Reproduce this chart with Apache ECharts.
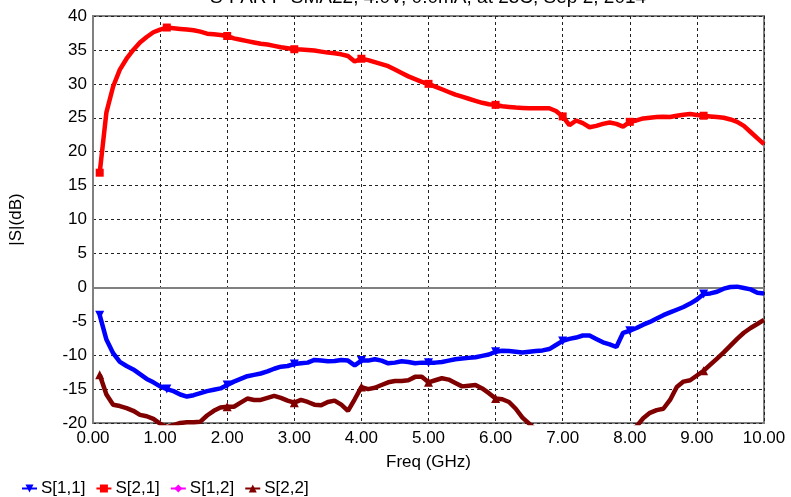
<!DOCTYPE html>
<html>
<head>
<meta charset="utf-8">
<script src="https://cdn.jsdelivr.net/npm/echarts@6/dist/echarts.min.js"></script>
<style>html,body{margin:0;padding:0;background:#fff}#c{width:791px;height:497px}</style>
</head>
<body>
<div id="c"></div>
<script>
const titleText = 'S-PAR P-SMA22, 4.0V, 0.0mA, at 25C, Sep 2, 2014';
const seriesNames = ['S[1,1]', 'S[2,1]', 'S[1,2]', 'S[2,2]'];
const xTicks = [0,1,2,3,4,5,6,7,8,9,10];
const freq = [0.1,0.2,0.3,0.4,0.5,0.6,0.7,0.8,0.9,1.0,
  1.1,1.2,1.3,1.4,1.5,1.6,1.7,1.8,1.9,2.0,
  2.1,2.2,2.3,2.4,2.5,2.6,2.7,2.8,2.9,3.0,
  3.1,3.2,3.3,3.4,3.5,3.6,3.7,3.8,3.9,4.0,
  4.1,4.2,4.3,4.4,4.5,4.6,4.7,4.8,4.9,5.0,
  5.1,5.2,5.3,5.4,5.5,5.6,5.7,5.8,5.9,6.0,
  6.1,6.2,6.3,6.4,6.5,6.6,6.7,6.8,6.9,7.0,
  7.1,7.2,7.3,7.4,7.5,7.6,7.7,7.8,7.9,8.0,
  8.1,8.2,8.3,8.4,8.5,8.6,8.7,8.8,8.9,9.0,
  9.1,9.2,9.3,9.4,9.5,9.6,9.7,9.8,9.9,10.0];
const s11 = [-4.1,-7.7,-9.7,-11.0,-11.6,-12.1,-12.8,-13.5,-14.0,-14.6,
  -15.0,-15.3,-15.8,-16.1,-15.9,-15.6,-15.3,-15.1,-14.9,-14.4,
  -13.9,-13.5,-13.1,-12.9,-12.7,-12.4,-12.0,-11.7,-11.6,-11.3,
  -11.2,-11.1,-10.7,-10.8,-10.9,-10.85,-10.7,-10.8,-11.5,-10.8,
  -10.8,-10.6,-10.8,-11.2,-11.1,-10.9,-11.0,-11.2,-11.1,-11.1,
  -11.1,-11.0,-10.8,-10.6,-10.5,-10.4,-10.3,-10.1,-9.9,-9.5,
  -9.35,-9.4,-9.5,-9.6,-9.5,-9.4,-9.3,-9.1,-8.5,-7.9,
  -7.6,-7.4,-7.1,-7.1,-7.6,-8.1,-8.4,-8.8,-6.7,-6.4,
  -6.0,-5.5,-5.1,-4.6,-4.1,-3.7,-3.3,-2.9,-2.4,-1.8,
  -1.0,-0.9,-0.65,-0.2,0.05,0.1,-0.1,-0.3,-0.8,-0.9];
const s21 = [16.9,25.8,29.6,32.1,33.7,35.0,36.1,36.9,37.6,38.0,
  38.3,38.2,38.1,38.0,37.9,37.7,37.4,37.3,37.2,37.05,
  36.7,36.5,36.3,36.1,35.9,35.8,35.6,35.4,35.25,35.1,
  35.05,35.0,34.9,34.75,34.6,34.5,34.35,34.1,33.3,33.7,
  33.5,33.2,32.9,32.6,32.1,31.6,31.1,30.7,30.3,30.0,
  29.6,29.2,28.8,28.4,28.1,27.8,27.5,27.2,27.0,26.9,
  26.7,26.6,26.5,26.45,26.4,26.4,26.4,26.4,26.0,25.2,
  23.9,24.6,24.2,23.6,23.8,24.1,24.3,24.1,23.7,24.4,
  24.6,24.9,25.0,25.1,25.15,25.1,25.3,25.45,25.55,25.4,
  25.3,25.2,25.1,25.0,24.75,24.4,23.8,22.9,22.0,21.1];
// S[1,2] lies entirely below the -20 dB axis floor in the reference (not visible)
const s12 = [];
const s22 = [-12.9,-15.8,-17.3,-17.5,-17.8,-18.2,-18.8,-19.0,-19.4,-20.1,
  -20.6,-20.3,-20.0,-19.9,-19.9,-19.8,-18.9,-18.2,-17.7,-17.6,
  -17.6,-17.0,-16.4,-16.6,-16.6,-16.3,-16.0,-16.3,-16.7,-17.0,
  -16.6,-16.9,-17.3,-17.4,-16.9,-16.7,-17.3,-18.2,-16.5,-14.7,
  -15.0,-14.8,-14.4,-14.0,-13.8,-13.8,-13.7,-13.2,-13.2,-14.0,
  -13.7,-13.4,-13.6,-14.1,-14.6,-14.5,-14.4,-14.9,-15.6,-16.4,
  -16.5,-16.9,-17.9,-19.2,-20.1,-21.0,-22.0,-23.0,-24.0,-24.5,
  -25.0,-25.0,-25.5,-25.0,-24.5,-24.0,-23.5,-23.0,-22.0,-21.2,
  -20.5,-19.3,-18.5,-18.1,-17.9,-16.6,-14.7,-13.9,-13.7,-13.0,
  -12.3,-11.4,-10.5,-9.6,-8.6,-7.6,-6.7,-6.0,-5.4,-4.8];
const markerFreqs = [0.1,1.1,2.0,3.0,4.0,5.0,6.0,7.0,8.0,9.1];

const FONT = 'Liberation Sans, Arial, sans-serif';
function pairs(vals){ return vals.map((v,i)=>[freq[i], v]); }
function markSize(sz){
  return function(val){ return markerFreqs.some(f=>Math.abs(f-val[0])<1e-6) ? sz : 0; };
}
function mk(name, vals, color, symbol, sz, rot){
  return {
    name, type:'line', data: pairs(vals), clip:true,
    symbol, symbolSize: markSize(sz), symbolRotate: rot||0, showSymbol:true,
    lineStyle:{color, width:4.5}, itemStyle:{color, borderWidth:0},
    emphasis:{disabled:true}, animation:false, z: 3
  };
}
const chart = echarts.init(document.getElementById('c'), null, {renderer:'canvas'});
chart.setOption({
  backgroundColor:'#fff',
  animation:false,
  textStyle:{fontFamily:FONT},
  graphic:[{type:'text', x:428, y:-12, style:{text:titleText, font:'19px '+FONT, fill:'#000', textAlign:'center', textVerticalAlign:'top'}}],
  grid:{left:92, right:27, top:16, bottom:74, show:true, borderColor:'#808080', borderWidth:2, backgroundColor:'transparent'},
  legend:{
    left:16, top:475, itemWidth:15, itemHeight:10, itemGap:10,
    textStyle:{fontSize:17, color:'#000', fontFamily:FONT, padding:[0,0,0,-1]},
    data: seriesNames
  },
  xAxis:{
    type:'value', min:0, max:10, interval:1,
    name:'Freq (GHz)', nameLocation:'middle', nameGap:31,
    nameTextStyle:{fontSize:17, color:'#000', fontFamily:FONT},
    axisLine:{show:true, lineStyle:{color:'#808080', width:2}},
    axisTick:{show:false},
    axisLabel:{fontSize:17, color:'#000', margin:7, formatter:v=>xTicks.includes(v)?v.toFixed(2):''},
    splitLine:{show:true, lineStyle:{color:'#222', type:[3,3], width:1}}
  },
  yAxis:{
    type:'value', min:-20, max:40, interval:5,
    name:'|S|(dB)', nameLocation:'middle', nameGap:68, nameRotate:90,
    nameTextStyle:{fontSize:17, color:'#000', fontFamily:FONT},
    axisLine:{show:true, lineStyle:{color:'#808080', width:2}},
    axisTick:{show:false},
    axisLabel:{fontSize:17, color:'#000', margin:6},
    splitLine:{show:true, lineStyle:{color:'#222', type:[3,3], width:1}}
  },
  series:[
    mk(seriesNames[0], s11, '#0000ff', 'triangle', 9, 180),
    mk(seriesNames[1], s21, '#ff0000', 'rect', 8, 0),
    {name:seriesNames[2], type:'line', data: pairs(s12), symbol:'diamond', symbolSize:8,
      lineStyle:{color:'#ff00ff', width:2}, itemStyle:{color:'#ff00ff'}, animation:false},
    mk(seriesNames[3], s22, '#800000', 'triangle', 9, 0)
  ]
});
</script>
</body>
</html>
